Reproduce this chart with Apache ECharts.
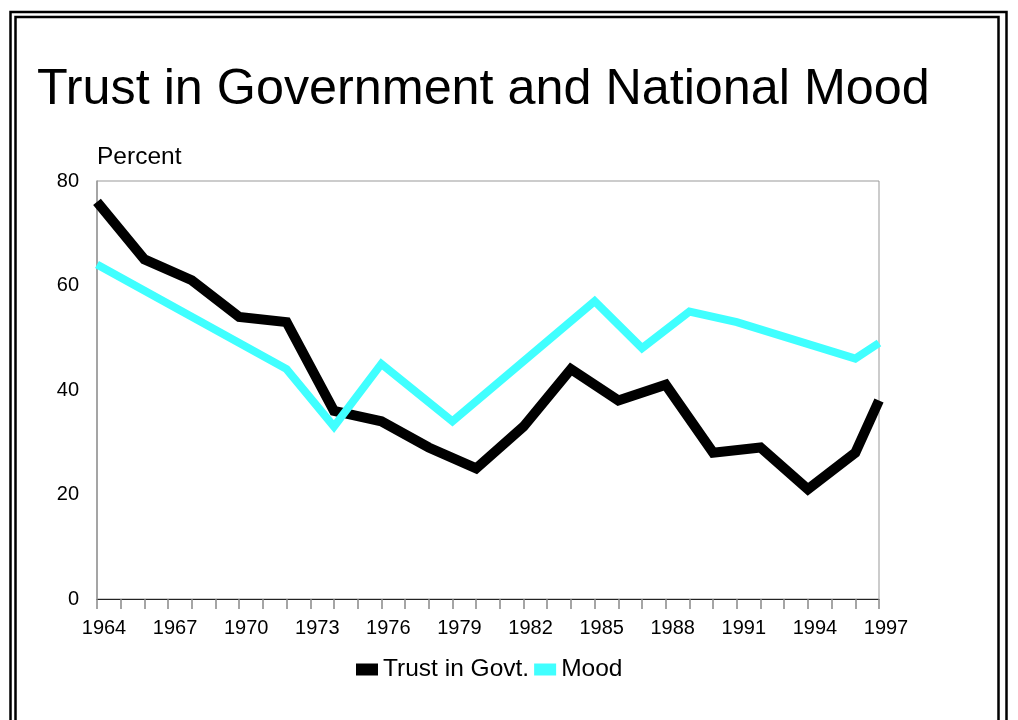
<!DOCTYPE html>
<html>
<head>
<meta charset="utf-8">
<script src="https://cdn.jsdelivr.net/npm/echarts@6/dist/echarts.min.js"></script>
<style>
html,body{margin:0;padding:0;background:#fff;}
#chart{width:1018px;height:720px;}
</style>
</head>
<body>
<div id="chart"></div>
<script>
const titleText = 'Trust in Government and National Mood';
const yAxisLabel = 'Percent';
const trustYears = [1964,1966,1968,1970,1972,1974,1976,1978,1980,1982,1984,1986,1988,1990,1992,1994,1996,1997];
const trustValues = [76,65,61,54,53,36,34,29,25,33,44,38,41,28,29,21,28,38];
const moodYears = [1964,1972,1974,1976,1979,1985,1987,1989,1991,1996,1997];
const moodValues = [64,44,33,45,34,57,48,55,53,46,49];
const seriesNames = ['Trust in Govt.', 'Mood'];
const yTicks = [0,20,40,60,80];

const font = '"Liberation Sans", Arial, sans-serif';
const chart = echarts.init(document.getElementById('chart'));
chart.setOption({
  animation: false,
  backgroundColor: '#fff',
  graphic: [
    {type:'rect', shape:{x:10.5,y:12,width:996,height:800}, style:{fill:'none',stroke:'#000',lineWidth:2.5}, silent:true},
    {type:'rect', shape:{x:15.5,y:17,width:983,height:800}, style:{fill:'none',stroke:'#000',lineWidth:2.5}, silent:true}
  ],
  title: [
    {text: titleText, left: 37, top: 65, padding: 0, textStyle:{fontFamily:font, fontSize:50.3, fontWeight:'normal', color:'#000'}},
    {text: yAxisLabel, left: 97, top: 145, padding: 0, textStyle:{fontFamily:font, fontSize:24.5, fontWeight:'normal', color:'#000'}}
  ],
  legend: {
    left: 356, top: 657, padding: 0, itemWidth: 22, itemHeight: 12, itemGap: 5, icon: 'rect',
    textStyle:{fontFamily:font, fontSize:24.5, color:'#000'},
    data: seriesNames
  },
  grid: {left:97, right:139, top:181, bottom:121, show:true, borderColor:'#999', borderWidth:1},
  xAxis: {
    type:'value', min:trustYears[0], max:1997, interval:1,
    axisLine:{show:true, lineStyle:{color:'#222', width:1}},
    axisTick:{show:true, length:10, lineStyle:{color:'#888', width:1.5}},
    splitLine:{show:false},
    axisLabel:{
      fontFamily:font, fontSize:20, color:'#000', margin:19, padding:[0,0,0,14],
      formatter: v => ((v - 1964) % 3 === 0 ? String(v) : '')
    }
  },
  yAxis: {
    type:'value', min:yTicks[0], max:yTicks[yTicks.length-1], interval:20,
    axisLine:{show:true, lineStyle:{color:'#999', width:1.5}},
    axisTick:{show:false},
    splitLine:{show:false},
    axisLabel:{fontFamily:font, fontSize:20, color:'#000', margin:18}
  },
  series: [
    {
      name: seriesNames[0], type:'line', showSymbol:false, symbol:'none', color:'#000',
      lineStyle:{color:'#000', width:10, cap:'butt', join:'miter'},
      data: trustYears.map((y,i)=>[y, trustValues[i]])
    },
    {
      name: seriesNames[1], type:'line', showSymbol:false, symbol:'none', color:'#40FFFF',
      lineStyle:{color:'#40FFFF', width:8, cap:'butt', join:'miter'},
      data: moodYears.map((y,i)=>[y, moodValues[i]])
    }
  ]
});
</script>
</body>
</html>
